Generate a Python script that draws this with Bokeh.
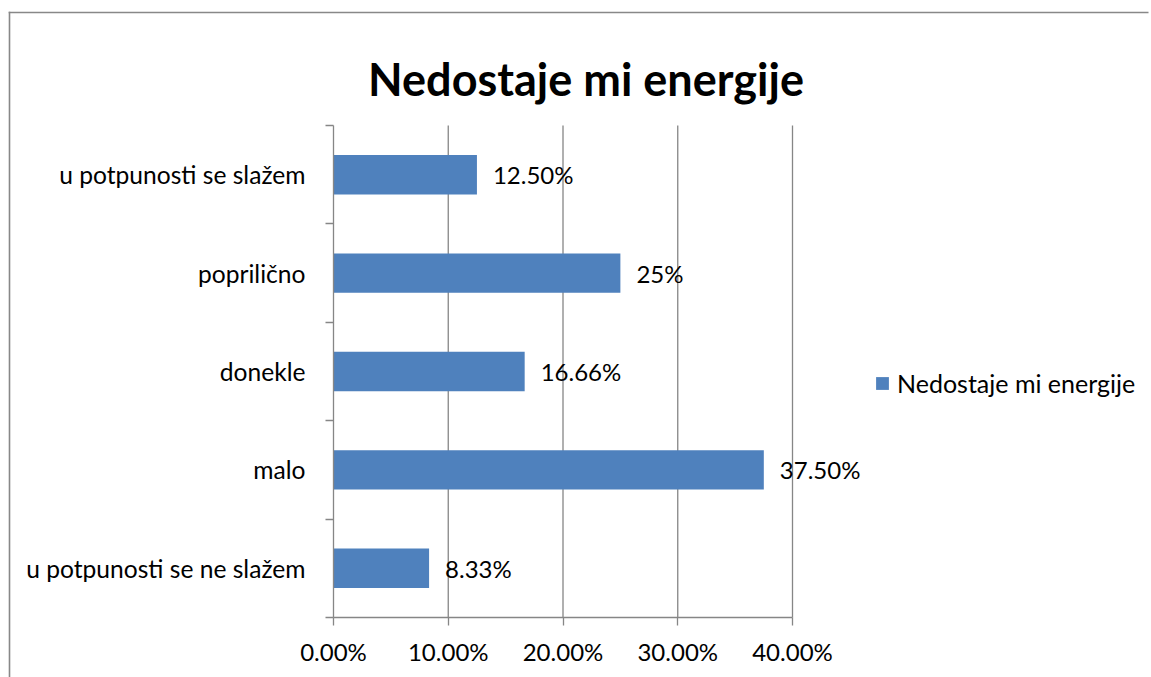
from bokeh.plotting import figure
from bokeh.models import (Range1d, FixedTicker, Label, Legend, LegendItem,
                          BoxAnnotation, ColumnDataSource, LabelSet)
from bokeh.core.properties import value
from bokeh.embed import file_html
from bokeh.resources import INLINE

categories = ["u potpunosti se ne slažem", "malo", "donekle", "popriličn" + "o", "u potpunosti se slažem"]
values = [8.33, 37.50, 16.66, 25.0, 12.50]
value_labels = ["8.33%", "37.50%", "16.66%", "25%", "12.50%"]
x_ticks = [0, 10, 20, 30, 40]
x_tick_labels = ["0.00%", "10.00%", "20.00%", "30.00%", "40.00%"]
title_text = "Nedostaje mi energije"
series_name = "Nedostaje mi energije"

FONT = "Lato"
GRAY = "#868686"
BAR = "#4F81BD"

W, H = 1151, 677
# frame covers the whole canvas; axes are pinned at data zero
PX_X = (792 - 333) / 40.0
PX_Y = (617 - 125) / 5.0
x_range = Range1d(-333 / PX_X, (W - 333) / PX_X)
y_range = Range1d(-(H - 617) / PX_Y, 617 / PX_Y)

p = figure(width=W, height=H, output_backend="svg", toolbar_location=None,
           x_range=x_range, y_range=y_range, min_border=0)
p.outline_line_color = None
p.background_fill_color = "white"
p.border_fill_color = "white"
p.grid.visible = False

ypos = [i + 0.5 for i in range(len(categories))]
src = ColumnDataSource(dict(y=ypos, v=values, lab=value_labels, cat=categories))

# vertical grid lines
grid_x = x_ticks[1:]
p.segment(x0=grid_x, x1=grid_x, y0=[0] * len(grid_x), y1=[len(categories)] * len(grid_x),
          line_color=GRAY, line_width=1.3)

r = p.hbar(y="y", right="v", left=0, height=0.4, source=src, fill_color=BAR, line_color=None)

labels = LabelSet(x="v", y="y", text="lab", source=src, x_offset=16, text_baseline="middle",
                  text_align="left", text_font=value(FONT), text_font_size="24px", text_color="#000000")
p.add_layout(labels)

# x axis
xa = p.xaxis[0]
xa.fixed_location = 0
xa.bounds = (0, 40)
xa.ticker = FixedTicker(ticks=x_ticks)
xa.major_label_overrides = {t: l for t, l in zip(x_ticks, x_tick_labels)}
xa.axis_line_color = GRAY
xa.axis_line_width = 1.3
xa.major_tick_line_color = GRAY
xa.major_tick_line_width = 1.3
xa.major_tick_in = 0
xa.major_tick_out = 8
xa.minor_tick_line_color = None
xa.major_label_standoff = 11
xa.major_label_text_font = FONT
xa.major_label_text_font_size = "24px"
xa.major_label_text_color = "#000000"

# y axis
ya = p.yaxis[0]
ya.fixed_location = 0
ya.bounds = (0, len(categories))
ya.ticker = FixedTicker(ticks=ypos, minor_ticks=list(range(len(categories) + 1)))
ya.major_label_overrides = {y: c for y, c in zip(ypos, categories)}
ya.axis_line_color = GRAY
ya.axis_line_width = 1.3
ya.major_tick_line_color = None
ya.major_tick_in = 0
ya.major_tick_out = 0
ya.minor_tick_line_color = GRAY
ya.minor_tick_line_width = 1.3
ya.minor_tick_in = 0
ya.minor_tick_out = 8
ya.major_label_standoff = 20
ya.major_label_text_font = FONT
ya.major_label_text_font_size = "24.6px"
ya.major_label_text_color = "#000000"

# title
p.add_layout(Label(x=585.5, y=78, x_units="canvas", y_units="canvas", text=title_text,
                   text_align="center", text_baseline="alphabetic", text_font=FONT,
                   text_font_size="45px", text_font_style="bold", text_color="#000000"))

# legend
legend = Legend(items=[LegendItem(label=series_name, renderers=[r])], location=(874, 677 - 398),
                glyph_width=16, glyph_height=16, label_height=16, padding=0, margin=0,
                label_text_font=FONT, label_text_font_size="25px", label_standoff=7,
                label_text_color="#000000",
                border_line_color=None, background_fill_alpha=0)
p.add_layout(legend, "center")

# outer chart border (left and top edges only; right/bottom lie outside the window)
CU = dict(left_units="canvas", right_units="canvas", top_units="canvas", bottom_units="canvas")
p.add_layout(BoxAnnotation(left=8.2, right=9.8, top=11.2, bottom=H, fill_color="#888888",
                           fill_alpha=1.0, line_color=None, line_alpha=0, **CU))
p.add_layout(BoxAnnotation(left=8.2, right=W - 3, top=11.2, bottom=12.8, fill_color="#888888",
                           fill_alpha=1.0, line_color=None, line_alpha=0, **CU))

open("out.html", "w").write(file_html(p, INLINE))
